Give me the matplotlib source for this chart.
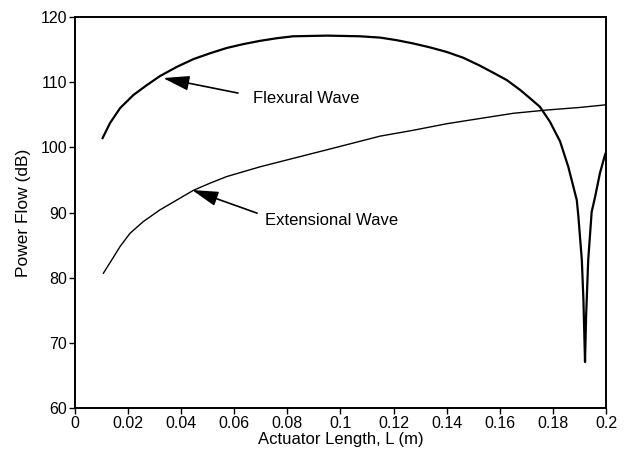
import numpy as np
import matplotlib
matplotlib.use("Agg")
import matplotlib.pyplot as plt
from matplotlib.ticker import FuncFormatter

plt.rcParams['font.family'] = ['Liberation Sans', 'DejaVu Sans']

# values
flex_L = [0.0104, 0.0132, 0.0170, 0.0220, 0.0270, 0.0320, 0.0383, 0.0446,
          0.0509, 0.0571, 0.0634, 0.0697, 0.0760, 0.0822, 0.0950, 0.1073,
          0.1149, 0.1212, 0.1274, 0.1337, 0.1400, 0.1463, 0.1525, 0.1576,
          0.1626, 0.1676, 0.1714, 0.1751, 0.1789, 0.1827, 0.1858, 0.1890,
          0.1896, 0.1909, 0.1915, 0.1921, 0.1925, 0.1933, 0.1946, 0.1959,
          0.1977, 0.1996, 0.2000]
flex_db = [101.4, 103.7, 106.0, 108.0, 109.5, 110.9, 112.3, 113.5,
           114.4, 115.2, 115.8, 116.3, 116.7, 117.0, 117.1, 117.0,
           116.8, 116.4, 115.9, 115.3, 114.6, 113.7, 112.5, 111.4,
           110.3, 108.8, 107.5, 106.2, 103.9, 100.9, 97.0, 91.9,
           89.4, 82.7, 76.6, 67.1, 74.0, 82.7, 90.1, 92.4,
           96.0, 98.8, 99.2]

ext_L = [0.0107, 0.0138, 0.0170, 0.0207, 0.0257, 0.0320, 0.0383, 0.0446,
         0.0509, 0.0571, 0.0697, 0.0822, 0.0948, 0.1149, 0.1274, 0.1400,
         0.1525, 0.1651, 0.1777, 0.1902, 0.2000]
ext_db = [80.7, 82.7, 84.8, 86.8, 88.6, 90.4, 91.9, 93.4,
          94.5, 95.5, 97.0, 98.3, 99.6, 101.7, 102.6, 103.6,
          104.4, 105.2, 105.7, 106.1, 106.5]

x_ticks = [0, 0.02, 0.04, 0.06, 0.08, 0.1, 0.12, 0.14, 0.16, 0.18, 0.2]
y_ticks = [60, 70, 80, 90, 100, 110, 120]

fig = plt.figure(figsize=(6.3, 4.55), dpi=100)
ax = fig.add_axes([0.119, 0.1026, 0.8429, 0.8607])

ax.plot(flex_L, flex_db, color='black', lw=1.6, solid_joinstyle='round')
ax.plot(ext_L, ext_db, color='black', lw=1.0)

ax.set_xlim(0, 0.2)
ax.set_ylim(60, 120)
ax.set_xticks(x_ticks)
ax.set_yticks(y_ticks)
ax.xaxis.set_major_formatter(FuncFormatter(lambda v, p: '%g' % round(v, 3)))
ax.tick_params(direction='out', length=4, width=1, labelsize=11.5, pad=1.5)

for s in ax.spines.values():
    s.set_linewidth(1.4)

ax.set_xlabel('Actuator Length, L (m)', fontsize=12, labelpad=1)
ax.set_ylabel('Power Flow (dB)', fontsize=12.5, labelpad=7)

arrow = dict(arrowstyle='-|>,head_length=1.6,head_width=0.45', color='black', lw=1.2,
             shrinkA=0, shrinkB=0)
ax.annotate('', xy=(0.0332, 110.6), xytext=(0.0614, 108.3), arrowprops=arrow)
ax.text(0.0670, 107.4, 'Flexural Wave', fontsize=12, va='center', ha='left')

ax.annotate('', xy=(0.0441, 93.45), xytext=(0.0686, 89.9), arrowprops=arrow)
ax.text(0.0716, 88.85, 'Extensional Wave', fontsize=12, va='center', ha='left')

fig.savefig('out.png', dpi=100)
